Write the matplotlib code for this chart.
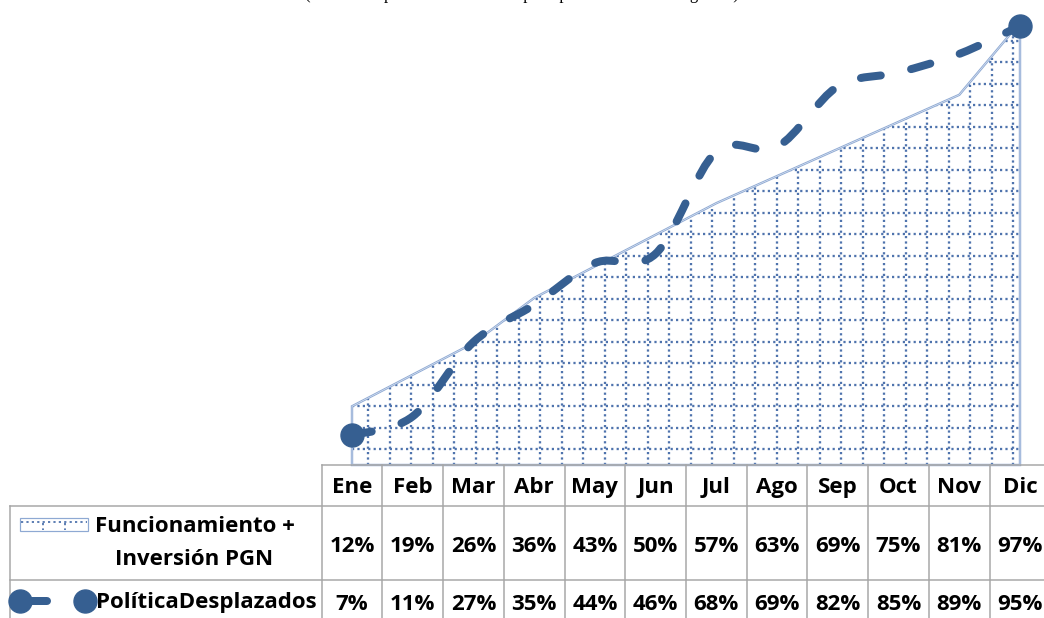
"""
Avance mensual acumulado: area con patron punteado + linea suavizada, con tabla de datos debajo.
"""

import numpy as np
import matplotlib
matplotlib.use('Agg')
import matplotlib.pyplot as plt
from matplotlib.path import Path
from matplotlib.patches import PathPatch, Rectangle
from matplotlib.collections import LineCollection
from matplotlib.lines import Line2D
from matplotlib.transforms import blended_transform_factory

# Datos
meses = ['Ene', 'Feb', 'Mar', 'Abr', 'May', 'Jun', 'Jul', 'Ago', 'Sep', 'Oct', 'Nov', 'Dic']
funcionamiento_pgn = [12, 19, 26, 36, 43, 50, 57, 63, 69, 75, 81, 97]
politica_desplazados = [7, 11, 27, 35, 44, 46, 68, 69, 82, 85, 89, 95]
nombres_series = ['Funcionamiento +\nInversión PGN', 'PolíticaDesplazados']
titulo = '(Avance en periodo mensual del presupuesto total de la vigencia)'

plt.rcParams['lines.scale_dashes'] = False

W, H = 1044, 618
fig = plt.figure(figsize=(W / 100, H / 100), dpi=100)


def fx(px):
    return px / W


def fy(py):
    return 1 - py / H


pt = 0.72  # puntos por pixel a 100 dpi

linea_color = '#365F91'
borde_area = '#8EA9D3'
punto_color = '#4F73AD'
tabla_color = '#A6A6A6'
punteado = (0, (2.2 * pt, 3.2 * pt))

# Ejes (area en eje principal, linea en eje secundario)
ax = fig.add_axes([fx(352), fy(465), fx(1020) - fx(352), 465 / H])
ax.set_xlim(0, len(meses) - 1)
ax.set_ylim(-1, 102)
ax.axis('off')
ax2 = ax.twinx()
ax2.set_ylim(0.54, 100.6)
ax2.axis('off')

x = np.arange(len(meses))

# Area con patron de cuadricula punteada
poly = ax.fill_between(x, ax.get_ylim()[0], funcionamiento_pgn, facecolor='white',
                       edgecolor='none', zorder=1)
area_path = poly.get_paths()[0]

ax_w, ax_h = 668, 465
xs = (16 + 21.5 * np.arange(40)) / ax_w
ys = (16 + 21.5 * np.arange(40)) / ax_h
segs = [[(v, 0), (v, 1)] for v in xs if v < 1] + [[(0, v), (1, v)] for v in ys if v < 1]
lc = LineCollection(segs, transform=ax.transAxes, colors=punto_color, linewidths=2.3 * pt,
                    linestyles=[punteado], zorder=1.5)
lc.set_clip_path(area_path, ax.transData)
ax.add_collection(lc)

borde = PathPatch(area_path, fill=False, edgecolor=borde_area, lw=2.4 * pt,
                  transform=ax.transData, zorder=2, clip_on=False)
ax.add_patch(borde)
borde_in = PathPatch(area_path, fill=False, edgecolor='#E3EAF5', lw=0.6 * pt,
                     transform=ax.transData, zorder=2.1, clip_on=False)
ax.add_patch(borde_in)

# Linea suavizada (Bezier tipo Catmull-Rom a partir de los datos)
pts = np.column_stack([x, politica_desplazados]).astype(float)
ext = np.vstack([pts[0], pts, pts[-1]])
verts = [tuple(pts[0])]
codes = [Path.MOVETO]
for i in range(len(pts) - 1):
    p_prev, p0, p1, p_next = ext[i], ext[i + 1], ext[i + 2], ext[i + 3]
    c1 = p0 + (p1 - p_prev) / 6
    c2 = p1 - (p_next - p0) / 6
    verts += [tuple(c1), tuple(c2), tuple(p1)]
    codes += [Path.CURVE4] * 3
curva = PathPatch(Path(verts, codes), fill=False, edgecolor=linea_color, lw=8 * pt,
                  linestyle=(0, (20 * pt, 31 * pt)), transform=ax2.transData,
                  zorder=3, clip_on=False)
curva.set_capstyle('round')
ax2.add_patch(curva)
ax2.plot(x, politica_desplazados, ls='none', marker='o', markevery=[0, len(x) - 1],
         ms=23 * pt, color=linea_color, zorder=4, clip_on=False)

# Titulo (recortado por el borde superior)
fig.text(0.5, fy(-1), titulo, ha='center', va='baseline', fontsize=12,
         family='Liberation Serif', color='black')

# Tabla de datos
tr = blended_transform_factory(ax.transData, fig.transFigure)
lw_t = 1.5 * pt
fig.add_artist(Line2D([-0.5, 12], [fy(465), fy(465)], transform=tr, color=tabla_color, lw=lw_t))
for yy in [506, 580]:
    fig.add_artist(Line2D([fx(10), 1], [fy(yy), fy(yy)], color=tabla_color, lw=lw_t))
fig.add_artist(Line2D([fx(10), fx(10)], [fy(506), 0], color=tabla_color, lw=lw_t))
for b in np.arange(len(meses) + 1) - 0.5:
    fig.add_artist(Line2D([b, b], [fy(465), 0], transform=tr, color=tabla_color, lw=lw_t))

fuente = dict(family='Open Sans', fontweight='bold', fontsize=16, color='black')
for i, m in enumerate(meses):
    fig.text(i, fy(493), m, transform=tr, ha='center', va='baseline', **fuente)
    fig.text(i, fy(552), f'{funcionamiento_pgn[i]}%', transform=tr, ha='center',
             va='baseline', **fuente)
    fig.text(i, fy(610), f'{politica_desplazados[i]}%', transform=tr, ha='center',
             va='baseline', **fuente)

# Etiquetas de fila con claves de leyenda
for j, linea in enumerate(nombres_series[0].split('\n')):
    fig.text(fx(194.5), fy(532 + 33 * j), linea, ha='center', va='baseline', **fuente)
fig.text(fx(96), fy(608), nombres_series[1], ha='left', va='baseline', **fuente)

clave = Rectangle((fx(20), fy(531)), fx(68), 13 / H, facecolor='white',
                  edgecolor=borde_area, lw=1.2 * pt, transform=fig.transFigure)
fig.add_artist(clave)
fig.add_artist(Line2D([fx(21), fx(87)], [fy(521.5), fy(521.5)], color=punto_color,
                      lw=1.8 * pt, ls=punteado))
for kx in [43, 65]:
    fig.add_artist(Line2D([fx(kx), fx(kx)], [fy(523), fy(530)], color=punto_color,
                          lw=1.8 * pt, ls=punteado))

fig.add_artist(Line2D([fx(20), fx(47)], [fy(601), fy(601)], color=linea_color,
                      lw=8 * pt, solid_capstyle='round'))
fig.add_artist(Line2D([fx(20), fx(85)], [fy(601), fy(601)], ls='none', marker='o',
                      ms=23 * pt, color=linea_color))

plt.savefig('out.png', dpi=100)
